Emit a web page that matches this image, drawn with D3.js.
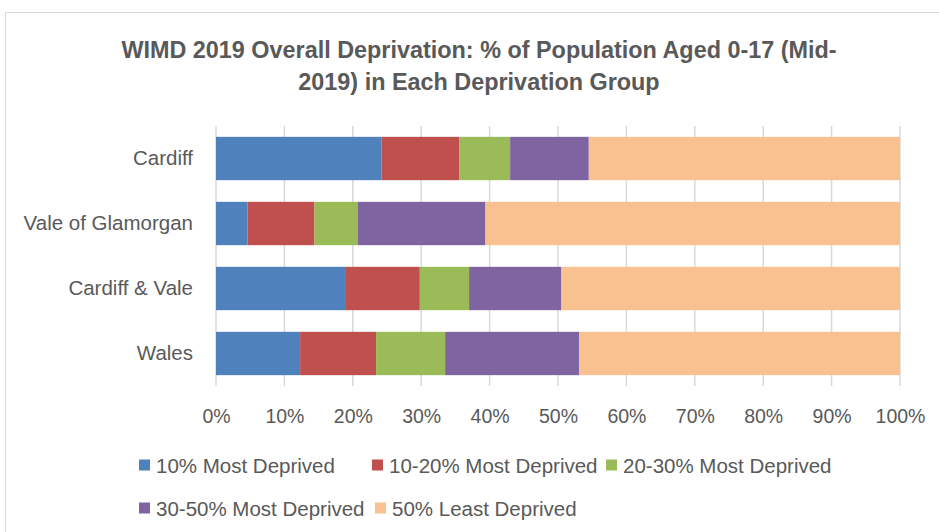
<!DOCTYPE html>
<html>
<head>
<meta charset="utf-8">
<script src="https://cdn.jsdelivr.net/npm/d3@7"></script>
<style>
  body { margin: 0; background: #fff; }
  svg { font-family: "Liberation Sans", Arial, sans-serif; }
</style>
</head>
<body>
<svg width="939" height="532"></svg>
<script>
const categories = ['Cardiff', 'Vale of Glamorgan', 'Cardiff & Vale', 'Wales'];
const seriesNames = ['10% Most Deprived', '10-20% Most Deprived', '20-30% Most Deprived', '30-50% Most Deprived', '50% Least Deprived'];
const mostDeprived10 = [24.2, 4.6, 19.0, 12.3];
const mostDeprived10to20 = [11.4, 9.8, 10.8, 11.1];
const mostDeprived20to30 = [7.4, 6.3, 7.2, 10.1];
const mostDeprived30to50 = [11.5, 18.7, 13.5, 19.6];
const leastDeprived50 = [45.5, 60.6, 49.5, 46.9];
const ticks = [0, 10, 20, 30, 40, 50, 60, 70, 80, 90, 100];
const colors = ['#4f81bd', '#c0504d', '#9bbb59', '#8064a2', '#f9c090'];

const values = [mostDeprived10, mostDeprived10to20, mostDeprived20to30, mostDeprived30to50, leastDeprived50];
const rows = categories.map((c, i) => {
  const r = { cat: c };
  seriesNames.forEach((s, j) => r[s] = values[j][i]);
  return r;
});

const svg = d3.select('svg');
const margin = { top: 126, left: 216, right: 39, bottom: 146 };
const width = 939 - margin.left - margin.right;
const height = 532 - margin.top - margin.bottom;

// chart border
svg.append('rect')
  .attr('x', 5.5).attr('y', 12.5)
  .attr('width', 940).attr('height', 530)
  .attr('fill', 'none').attr('stroke', '#d9d9d9');

const titleLines = ['WIMD 2019 Overall Deprivation: % of Population Aged 0-17 (Mid-', '2019) in Each Deprivation Group'];
svg.selectAll('.title')
  .data(titleLines)
  .enter().append('text')
  .attr('class', 'title')
  .attr('x', 479).attr('y', (d, i) => 58 + i * 32)
  .attr('text-anchor', 'middle')
  .attr('font-size', 23.4).attr('font-weight', 'bold').attr('fill', '#595959')
  .text(d => d);

const g = svg.append('g').attr('transform', `translate(${margin.left},${margin.top})`);

const x = d3.scaleLinear().domain([0, 100]).range([0, width]);
const y = d3.scaleBand().domain(categories).range([0, height]).paddingInner(1 / 3).paddingOuter(1 / 6);

g.append('g')
  .selectAll('line')
  .data(ticks)
  .enter().append('line')
  .attr('x1', d => x(d)).attr('x2', d => x(d))
  .attr('y1', 0).attr('y2', height)
  .attr('stroke', '#d9d9d9').attr('stroke-width', 1.5);

const stack = d3.stack().keys(seriesNames)(rows);

g.selectAll('.series')
  .data(stack)
  .enter().append('g')
  .attr('class', 'series')
  .attr('fill', (d, i) => colors[i])
  .selectAll('rect')
  .data(d => d)
  .enter().append('rect')
  .attr('x', d => x(d[0]))
  .attr('y', d => y(d.data.cat))
  .attr('width', d => x(d[1]) - x(d[0]))
  .attr('height', y.bandwidth());

const xAxis = g.append('g')
  .attr('transform', `translate(0,${height})`)
  .call(d3.axisBottom(x).tickValues(ticks).tickFormat(d => d + '%').tickSize(0).tickPadding(23));
xAxis.select('.domain').remove();
xAxis.selectAll('text').attr('font-size', 19.5).attr('fill', '#595959').attr('font-family', 'inherit');

const yAxis = g.append('g')
  .call(d3.axisLeft(y).tickSize(0).tickPadding(23));
yAxis.select('.domain').remove();
yAxis.selectAll('text').attr('font-size', 20.5).attr('fill', '#595959').attr('font-family', 'inherit');

// legend
const legendPos = [[139, 465], [372, 465], [606, 465], [139, 508], [375, 508]];
const legend = svg.selectAll('.legend')
  .data(seriesNames)
  .enter().append('g')
  .attr('class', 'legend')
  .attr('transform', (d, i) => `translate(${legendPos[i][0]},${legendPos[i][1]})`);
legend.append('rect')
  .attr('x', 0).attr('y', -5.5).attr('width', 11).attr('height', 11)
  .attr('fill', (d, i) => colors[i]);
legend.append('text')
  .attr('x', 17).attr('y', 7.5)
  .attr('font-size', 20.5).attr('fill', '#595959')
  .text(d => d);
</script>
</body>
</html>
